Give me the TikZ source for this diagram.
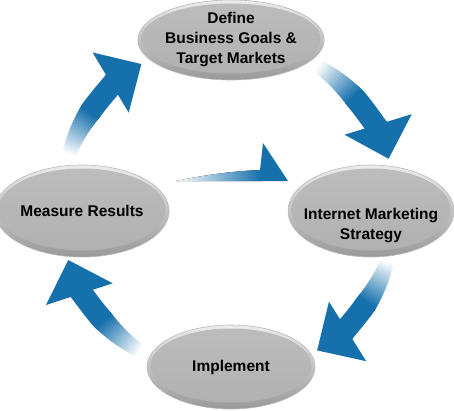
\documentclass[tikz,border=0pt]{standalone}
\usepackage{fontspec}
\setsansfont{Liberation Sans}
\usetikzlibrary{shapes.geometric, arrows.meta, calc}
\definecolor{cycleblue}{RGB}{22,112,172}

% curved arrow on the cycle circle, fading at its tail
\newcommand{\cyclearrow}[2]{%
  \pgfmathsetmacro{\ae}{(#1)+((#2)-(#1))*21/50}
  \foreach \k in {0,...,19}{
    \pgfmathsetmacro{\aa}{(#1)+((#2)-(#1))*\k/50}
    \pgfmathsetmacro{\op}{5*(\k+1)}
    \pgfmathsetmacro{\lw}{14+\k*0.4}
    \draw[shift={(c)}, line width=\lw pt, cycleblue!\op!white]
      (\aa:168) arc[start angle=\aa, end angle=\ae, radius=168];
  }
  \pgfmathsetmacro{\ac}{(#1)+((#2)-(#1))*20/50}
  \draw[shift={(c)}, line width=22pt, cycleblue, -{Triangle[length=36pt,width=68pt]}]
    (\ac:168) arc[start angle=\ac, end angle=#2, radius=168];
}

\begin{document}
\begin{tikzpicture}[x=1pt,y=1pt,
    stage/.style={ellipse, minimum width=168pt, minimum height=80pt, inner sep=0pt,
      draw=gray!55, line width=0.6pt, top color=gray!15, bottom color=gray!80,
      path picture={\path let \p1=(path picture bounding box.north east),
          \p2=(path picture bounding box.center) in
          [top color=gray!52, bottom color=gray!62]
          ($(\p2)+(0,1.5pt)$) ellipse [x radius=\x1-\x2-3.5pt, y radius=\y1-\y2-5pt];},
      font=\sffamily\bfseries\fontsize{15.5}{20}\selectfont, align=center}]
  \useasboundingbox (0,0) rectangle (454,410);
  \coordinate (c) at (228,202);

  \cyclearrow{161}{121}
  \cyclearrow{57}{17}
  \cyclearrow{341}{302}
  \cyclearrow{238}{198}

  \node[stage] (goals) at (231,370) {Define\\Business Goals \&\\Target Markets};
  \node[stage, minimum width=166pt, minimum height=92pt] (measure) at (82,199) {Measure Results};
  \node[stage, minimum width=166pt, minimum height=92pt,
    label={[font=\sffamily\bfseries\fontsize{15.5}{20}\selectfont, align=center, yshift=-15pt]center:Internet Marketing\\Strategy}]
    (strategy) at (371,199) {};
  \node[stage, minimum height=84pt] (implement) at (231,43) {Implement};

  % straight arrow between the middle stages
  \fill[left color=white, middle color=cycleblue, right color=cycleblue]
    (176,229) .. controls (200,234) and (230,239) .. (261,240) -- (261,229) -- cycle;
  \fill[cycleblue] (260,240) -- (263,267) -- (288,229) -- (260,229) -- cycle;
\end{tikzpicture}
\end{document}
